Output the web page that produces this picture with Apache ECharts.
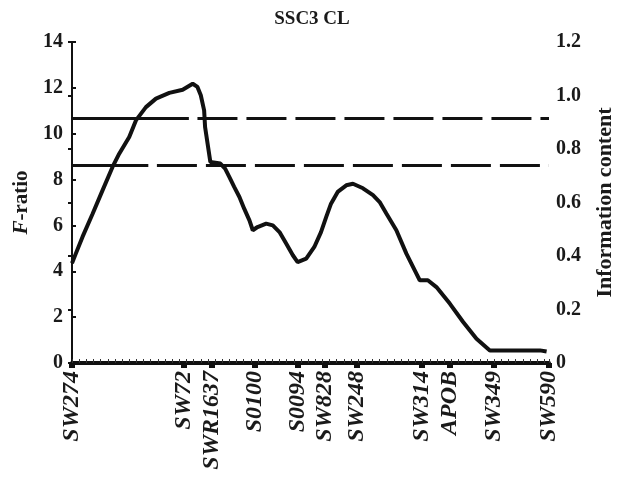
<!DOCTYPE html>
<html>
<head>
<meta charset="utf-8">
<script src="https://cdn.jsdelivr.net/npm/echarts@6/dist/echarts.min.js"></script>
<style>html,body{margin:0;padding:0;background:#fff}#c{width:624px;height:481px}</style>
</head>
<body>
<div id="c"></div>
<script>
// Marker names and map positions (cM)
const markerNames = ['SW274','SW72','SWR1637','S0100','S0094','SW828','SW248','SW314','APOB','SW349','SW590'];
const markerPos = [0, 23.5, 29.4, 38.4, 47.3, 52.9, 59.7, 73.3, 79.2, 88.4, 100];

// F-ratio profile
const profilePos = [0, 0.8, 2.2, 4.3, 6.4, 8.5, 9.9, 12.0, 13.4, 15.5, 17.6, 20.4, 23.2, 25.3, 26.3, 27.0, 27.7, 27.9,
  29.0, 31.1, 32.1, 33.0, 34.0, 35.1, 36.1, 37.2, 37.9, 38.9, 40.7, 42.1, 43.5, 44.9, 46.3, 47.3, 49.1, 50.8, 52.2,
  53.3, 54.3, 55.7, 57.5, 58.9, 61.0, 63.1, 64.5, 65.9, 68.0, 70.1, 72.2, 72.9, 74.6, 76.4, 79.2, 82.0, 84.8, 87.6, 98.1, 99.5];
const fRatio = [4.35, 4.77, 5.5, 6.5, 7.53, 8.55, 9.13, 9.86, 10.58, 11.16, 11.53, 11.78, 11.92, 12.18, 12.04, 11.68, 11.02, 10.29,
  8.77, 8.7, 8.48, 8.11, 7.68, 7.24, 6.73, 6.22, 5.79, 5.93, 6.08, 6.0, 5.71, 5.21, 4.70, 4.40, 4.55, 5.06, 5.71,
  6.37, 6.95, 7.46, 7.75, 7.82, 7.62, 7.32, 7.02, 6.52, 5.79, 4.77, 3.90, 3.61, 3.61, 3.31, 2.59, 1.79, 1.06, 0.55, 0.55, 0.5];

// Significance thresholds (F-ratio) and where their solid left part ends (cM)
const thresholds = [10.66, 8.62];
const thresholdSolidEnd = [24.5, 16];

const titleText = 'SSC3 CL';
const rightName = 'Information content';

const serif = '"Liberation Serif", "DejaVu Serif", serif';
const ink = '#1a1a1a';
const chart = echarts.init(document.getElementById('c'), null, {renderer: 'canvas'});
const data = profilePos.map((x, i) => [x, fRatio[i]]);

const solidParts = thresholds.map((t, i) => [{coord: [0, t]}, {coord: [thresholdSolidEnd[i], t]}]);
const dashedParts = thresholds.map((t, i) => [{coord: [thresholdSolidEnd[i] + 1.8, t]}, {coord: [100, t]}]);

chart.setOption({
  animation: false,
  backgroundColor: '#fff',
  title: {
    text: titleText, left: 'center', top: 5,
    textStyle: {fontFamily: serif, fontSize: 19, fontWeight: 'bold', color: ink}
  },
  grid: {left: 72, right: 74, top: 42, bottom: 118},
  xAxis: [{
    type: 'value', min: 0, max: 100,
    axisLine: {show: true, lineStyle: {color: '#111', width: 4}},
    splitLine: {show: false},
    axisTick: {show: true, customValues: markerPos, length: 5, inside: false, lineStyle: {color: '#111', width: 6}},
    axisLabel: {
      show: true, customValues: markerPos, rotate: 90, margin: 8,
      fontFamily: serif, fontSize: 24, fontStyle: 'italic', fontWeight: 'bold', color: ink,
      formatter: v => { const i = markerPos.indexOf(v); return i >= 0 ? markerNames[i] : ''; }
    }
  }, {
    type: 'value', min: 0, max: 100, interval: 1.5, position: 'bottom',
    axisLine: {show: false}, splitLine: {show: false}, axisLabel: {show: false},
    axisTick: {show: true, inside: true, length: 4, lineStyle: {color: '#333', width: 1}}
  }],
  yAxis: [{
    type: 'value', min: 0, max: 14, interval: 2,
    name: '{i|F}-ratio', nameLocation: 'middle', nameGap: 40, nameRotate: 90,
    nameTextStyle: {fontFamily: serif, fontSize: 21, fontWeight: 'bold', color: ink,
      rich: {i: {fontFamily: serif, fontSize: 21, fontStyle: 'italic', fontWeight: 'bold', color: ink}}},
    axisLine: {show: true, lineStyle: {color: '#111', width: 2}},
    axisTick: {show: true, inside: true, length: 4, lineStyle: {color: '#111', width: 2}},
    axisLabel: {fontFamily: serif, fontSize: 20, fontWeight: 'bold', color: ink, margin: 9},
    splitLine: {show: false}
  }, {
    type: 'value', min: 0, max: 1.2, interval: 0.2, position: 'right',
    name: rightName, nameLocation: 'middle', nameGap: 45, nameRotate: 90,
    nameTextStyle: {fontFamily: serif, fontSize: 22, fontWeight: 'bold', color: ink},
    axisLine: {show: true, lineStyle: {color: '#111', width: 2}},
    axisTick: {show: true, inside: true, length: 4, lineStyle: {color: '#111', width: 2}},
    axisLabel: {fontFamily: serif, fontSize: 20, fontWeight: 'bold', color: ink, margin: 7,
      formatter: v => v === 0 ? '0' : v.toFixed(1)},
    splitLine: {show: false}
  }],
  series: [{
    type: 'line', xAxisIndex: 0, yAxisIndex: 0,
    data: data, showSymbol: false, smooth: false,
    lineStyle: {color: '#111', width: 4},
    markLine: {
      silent: true, symbol: ['none', 'none'], label: {show: false},
      lineStyle: {color: '#111', width: 3, type: [40, 9]},
      data: dashedParts
    }
  }, {
    type: 'line', xAxisIndex: 0, yAxisIndex: 0, data: [],
    markLine: {
      silent: true, symbol: ['none', 'none'], label: {show: false},
      lineStyle: {color: '#111', width: 3, type: 'solid'},
      data: solidParts
    }
  }]
});
</script>
</body>
</html>
